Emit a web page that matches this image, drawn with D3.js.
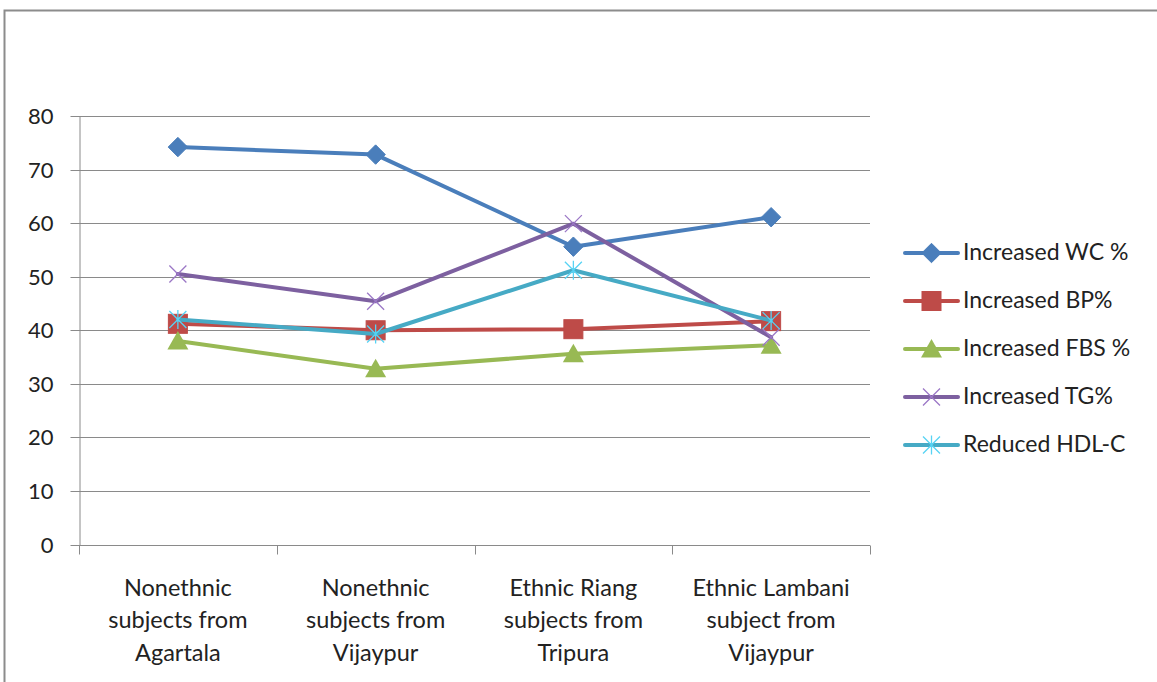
<!DOCTYPE html>
<html>
<head>
<meta charset="utf-8">
<script src="https://cdn.jsdelivr.net/npm/d3@7"></script>
<style>
  html, body { margin: 0; padding: 0; background: #fff; }
  svg { display: block; font-family: Lato, "Open Sans", sans-serif; }
</style>
</head>
<body>
<svg id="chart" width="1157" height="682"></svg>
<script>
// Category labels (multi-line)
const categories = [
  ["Nonethnic", "subjects from", "Agartala"],
  ["Nonethnic", "subjects from", "Vijaypur"],
  ["Ethnic Riang", "subjects from", "Tripura"],
  ["Ethnic Lambani", "subject from", "Vijaypur"]
];
const seriesNames = ["Increased WC %", "Increased BP%", "Increased FBS %", "Increased TG%", "Reduced HDL-C"];
const wcValues  = [74.2, 72.8, 55.6, 61.1];
const bpValues  = [41.2, 40.0, 40.2, 41.7];
const fbsValues = [38.0, 32.8, 35.6, 37.2];
const tgValues  = [50.5, 45.4, 59.9, 38.7];
const hdlValues = [42.0, 39.3, 51.2, 41.8];
const yTicks = [0, 10, 20, 30, 40, 50, 60, 70, 80];

const colors  = ["#4A7EBB", "#BE4B48", "#98B954", "#7D60A0", "#46AAC5"];
const markers = ["diamond", "square", "triangle", "x", "star"];
const values  = [wcValues, bpValues, fbsValues, tgValues, hdlValues];

const svg = d3.select("#chart");

// outer chart frame
svg.append("path")
  .attr("d", "M4.5,682 L4.5,10.5 L1157,10.5")
  .attr("fill", "none").attr("stroke", "#8c8c8c").attr("stroke-width", 2);

const plotLeft = 79, plotRight = 870, plotTop = 116, plotBottom = 544.5;
const idx = categories.map((d, i) => i);
const x = d3.scaleBand().domain(idx).range([plotLeft, plotRight]);
const y = d3.scaleLinear().domain([0, 80]).range([plotBottom, plotTop]);

// horizontal gridlines
svg.append("g").selectAll("line").data(yTicks.slice(1)).join("line")
  .attr("x1", plotLeft).attr("x2", plotRight)
  .attr("y1", d => Math.round(y(d)) + 0.5).attr("y2", d => Math.round(y(d)) + 0.5)
  .attr("stroke", "#8a8a8a").attr("stroke-width", 1);

// y axis
const yAxis = svg.append("g").attr("transform", `translate(${plotLeft + 0.5},0)`)
  .call(d3.axisLeft(y).tickValues(yTicks).tickSize(9).tickPadding(17).tickSizeOuter(0));
yAxis.select(".domain").attr("stroke", "#8a8a8a");
yAxis.selectAll(".tick line").attr("stroke", "#8a8a8a");
yAxis.selectAll(".tick").attr("transform", d => `translate(0,${Math.round(y(d)) + 0.5})`);
yAxis.selectAll("text").attr("font-size", 22).attr("fill", "#222")
  .attr("font-family", "Lato, 'Open Sans', sans-serif");

// x axis
const xAxisY = Math.round(plotBottom) + 0.5;
svg.append("line").attr("x1", plotLeft).attr("x2", plotRight).attr("y1", xAxisY).attr("y2", xAxisY)
  .attr("stroke", "#8a8a8a");
const bounds = idx.map(i => x(i)).concat([plotRight]);
svg.append("g").selectAll("line").data(bounds).join("line")
  .attr("x1", d => Math.round(d) + 0.5).attr("x2", d => Math.round(d) + 0.5)
  .attr("y1", xAxisY).attr("y2", xAxisY + 9)
  .attr("stroke", "#8a8a8a");

const xc = i => x(i) + x.bandwidth() / 2;
const labels = svg.append("g").selectAll("text").data(categories).join("text")
  .attr("x", (d, i) => xc(i))
  .attr("text-anchor", "middle").attr("font-size", 23.5).attr("fill", "#222");
labels.selectAll("tspan").data(d => d).join("tspan")
  .attr("x", function () { return this.parentNode.getAttribute("x"); })
  .attr("y", (d, j) => 596 + j * 32.3)
  .text(d => d);

// marker drawing
function drawMarker(g, type, color, cx, cy) {
  if (type === "diamond") {
    g.append("path").attr("d", d3.symbol(d3.symbolDiamond2, 240)())
      .attr("transform", `translate(${cx},${cy})`).attr("fill", color).attr("stroke", color);
  } else if (type === "square") {
    g.append("rect").attr("x", cx - 9.5).attr("y", cy - 9.5).attr("width", 19).attr("height", 19)
      .attr("fill", color).attr("stroke", color).attr("stroke-width", 1);
  } else if (type === "triangle") {
    g.append("path").attr("d", `M${cx},${cy - 10} L${cx + 10.5},${cy + 8.5} L${cx - 10.5},${cy + 8.5} Z`)
      .attr("fill", color);
  } else if (type === "x") {
    const s = 8.5;
    g.append("path").attr("d", `M${cx - s},${cy - s} L${cx + s},${cy + s} M${cx - s},${cy + s} L${cx + s},${cy - s}`)
      .attr("stroke", d3.color(color).brighter(0.6)).attr("stroke-width", 1.3).attr("fill", "none");
  } else if (type === "star") {
    const s = 8.5;
    g.append("path").attr("d", `M${cx - s},${cy - s} L${cx + s},${cy + s} M${cx - s},${cy + s} L${cx + s},${cy - s} M${cx},${cy - s - 1} L${cx},${cy + s + 1}`)
      .attr("stroke", d3.color(color).brighter(0.6)).attr("stroke-width", 1.3).attr("fill", "none");
  }
}

// series lines and markers
const line = d3.line().x((d, i) => xc(i)).y(d => y(d));
values.forEach((vals, s) => {
  const g = svg.append("g");
  g.append("path").datum(vals).attr("d", line)
    .attr("fill", "none").attr("stroke", colors[s]).attr("stroke-width", 4)
    .attr("stroke-linejoin", "round").attr("stroke-linecap", "round");
  vals.forEach((v, i) => drawMarker(g, markers[s], colors[s], xc(i), y(v)));
});

// legend
const legend = svg.append("g");
seriesNames.forEach((name, s) => {
  const ly = 253 + s * 48;
  const g = legend.append("g");
  g.append("line").attr("x1", 905).attr("x2", 958).attr("y1", ly).attr("y2", ly)
    .attr("stroke", colors[s]).attr("stroke-width", 4).attr("stroke-linecap", "round");
  drawMarker(g, markers[s], colors[s], 931.5, ly);
  g.append("text").attr("x", 963).attr("y", ly + 7).attr("font-size", 23).attr("fill", "#222").text(name);
});
</script>
</body>
</html>
